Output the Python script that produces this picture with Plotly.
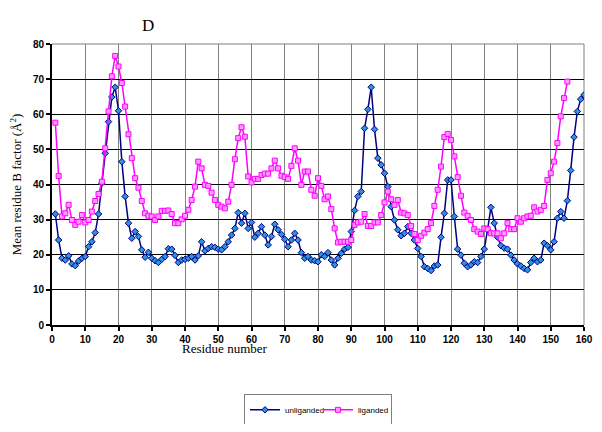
'''
    Mean residue B factor per residue, unliganded vs liganded (panel D).
'''

import plotly.graph_objects as go

UNLIGANDED_RESIDUES = list(range(1, 161))
UNLIGANDED_B = [
    31.6, 24.2, 19.0, 18.5, 19.7, 17.4, 16.9, 18.2, 19.0, 19.5,
    22.3, 23.7, 26.3, 31.6, 40.4, 48.9, 57.9, 64.9, 67.7, 61.0,
    46.5, 36.6, 29.0, 24.7, 26.6, 25.2, 21.4, 19.3, 20.7, 19.0,
    18.3, 17.8, 18.7, 19.5, 21.7, 21.6, 19.8, 17.8, 18.5, 18.7,
    19.0, 19.5, 18.5, 19.7, 23.7, 21.1, 21.8, 22.3, 22.1, 21.6,
    21.4, 22.3, 23.7, 25.6, 27.5, 32.0, 29.0, 31.8, 27.5, 29.2,
    25.0, 26.1, 28.0, 25.6, 22.8, 25.2, 28.7, 27.1, 25.8, 24.4,
    22.3, 24.2, 26.1, 24.2, 20.6, 19.0, 19.5, 18.5, 18.3, 18.0,
    20.0, 19.5, 20.6, 18.5, 17.1, 19.0, 20.4, 21.6, 22.1, 26.6,
    32.6, 36.6, 38.0, 56.0, 61.4, 67.7, 55.7, 47.5, 45.6, 43.2,
    39.4, 33.7, 29.9, 27.1, 25.4, 26.1, 28.0, 26.1, 24.2, 21.8,
    19.5, 16.6, 16.1, 15.5, 16.8, 17.1, 25.0, 31.8, 41.3, 41.3,
    30.9, 21.6, 19.9, 17.6, 16.6, 17.1, 18.0, 17.8, 19.5, 21.6,
    27.1, 33.5, 29.0, 25.0, 22.6, 21.9, 21.6, 19.9, 18.5, 17.4,
    16.8, 16.1, 15.7, 17.8, 19.0, 18.0, 18.5, 23.3, 22.6, 21.4,
    23.7, 30.4, 32.3, 30.4, 35.4, 44.0, 53.5, 60.8, 64.3, 65.5,
]

LIGANDED_RESIDUES = list(range(1, 156))
LIGANDED_B = [
    57.6, 42.4, 30.9, 31.8, 34.2, 29.9, 28.5, 29.4, 31.3, 29.2,
    29.9, 32.3, 35.3, 37.3, 40.8, 50.3, 60.8, 70.8, 76.6, 73.6,
    68.9, 62.2, 54.3, 47.5, 41.8, 39.1, 35.3, 31.8, 31.1, 30.9,
    29.9, 30.9, 32.5, 32.5, 32.6, 31.6, 29.0, 29.0, 30.1, 31.1,
    32.8, 35.6, 39.4, 46.5, 44.6, 39.9, 39.6, 37.7, 35.6, 34.2,
    33.7, 33.2, 35.1, 39.9, 47.2, 53.2, 56.3, 53.6, 42.3, 40.6,
    41.6, 41.6, 42.7, 43.1, 43.1, 44.6, 46.8, 44.6, 42.5, 42.1,
    41.6, 45.3, 50.3, 46.8, 39.9, 43.7, 43.7, 38.5, 36.8, 41.8,
    39.6, 35.8, 36.6, 33.0, 27.5, 23.5, 23.7, 23.7, 23.7, 24.2,
    28.5, 29.2, 29.4, 31.6, 28.2, 28.2, 29.2, 29.2, 31.3, 34.9,
    38.0, 35.8, 34.2, 35.6, 32.0, 31.8, 31.3, 28.2, 25.9, 24.2,
    25.4, 26.3, 27.3, 29.0, 33.9, 38.5, 45.1, 53.5, 54.4, 52.7,
    48.0, 42.1, 36.8, 32.0, 31.1, 29.9, 27.3, 26.6, 25.9, 27.5,
    27.3, 26.1, 26.1, 26.1, 24.7, 26.1, 29.0, 27.3, 27.3, 30.4,
    29.4, 30.4, 30.9, 31.1, 33.5, 32.3, 32.8, 33.9, 41.3, 43.2,
    46.5, 51.8, 59.4, 64.6, 69.3,
]

X_TICKS = list(range(0, 161, 10))
Y_TICKS = list(range(0, 81, 10))

TICK_FONT = dict(family="Liberation Sans, Arial, sans-serif", size=10,
                 color="black", weight="bold")
SERIF = "Liberation Serif, Times New Roman, serif"

fig = go.Figure()

fig.add_trace(go.Scatter(
    x=UNLIGANDED_RESIDUES,
    y=UNLIGANDED_B,
    mode="lines+markers",
    name="unliganded",
    line=dict(color="#000080", width=1.5),
    marker=dict(symbol="diamond", size=5, color="#2f8fe0",
                line=dict(color="#000080", width=1)),
))

fig.add_trace(go.Scatter(
    x=LIGANDED_RESIDUES,
    y=LIGANDED_B,
    mode="lines+markers",
    name="liganded",
    line=dict(color="#ff00ff", width=1.5),
    marker=dict(symbol="square", size=5, color="#ff99ff",
                line=dict(color="#ff00ff", width=1)),
))

fig.update_xaxes(
    range=[0, 160],
    tickvals=X_TICKS,
    ticks="outside",
    ticklen=4,
    tickwidth=2,
    tickcolor="black",
    tickfont=TICK_FONT,
    showgrid=True,
    gridcolor="#808080",
    gridwidth=1,
    zeroline=False,
    showline=True,
    linecolor="black",
    linewidth=2,
    automargin=False,
)

fig.update_yaxes(
    range=[0, 80],
    tickvals=Y_TICKS,
    ticks="outside",
    ticklen=4,
    tickwidth=2,
    tickcolor="black",
    tickfont=TICK_FONT,
    showgrid=True,
    gridcolor="black",
    gridwidth=1,
    zeroline=False,
    showline=True,
    linecolor="black",
    linewidth=2,
    automargin=False,
    title=dict(text="Mean residue B factor (Å<sup>2</sup>)",
               font=dict(family=SERIF, size=13, color="black"),
               standoff=8),
)

# gray frame on top / right like the original spreadsheet chart
fig.add_shape(type="line", xref="x domain", yref="y domain",
              x0=0, x1=1, y0=1, y1=1,
              line=dict(color="#808080", width=1), layer="above")
fig.add_shape(type="line", xref="x domain", yref="y domain",
              x0=1, x1=1, y0=0, y1=1,
              line=dict(color="#808080", width=1), layer="below")

fig.add_annotation(text="D", xref="paper", yref="paper", x=0.165, y=1.107,
                   showarrow=False, font=dict(family=SERIF, size=17, color="black"))
fig.add_annotation(text="Residue number", xref="paper", yref="paper",
                   x=0.24, y=-0.082, showarrow=False, yanchor="middle",
                   font=dict(family=SERIF, size=13, color="black"))

# page body has an 8px margin, so the figure is sized to fit inside it
fig.update_layout(
    width=586,
    height=416,
    margin=dict(l=44, r=10, t=36, b=99),
    paper_bgcolor="white",
    plot_bgcolor="white",
    showlegend=True,
    legend=dict(
        orientation="h",
        xref="paper",
        x=0.5,
        xanchor="center",
        yref="container",
        y=0.034,
        yanchor="middle",
        bordercolor="#808080",
        borderwidth=1,
        font=dict(family="Liberation Sans Narrow, Arial Narrow, Arial, sans-serif",
                  size=8, color="black"),
        itemwidth=30,
        entrywidth=28,
        entrywidthmode="pixels",
        tracegroupgap=0,
    ),
)

fig.write_html("out.html")
